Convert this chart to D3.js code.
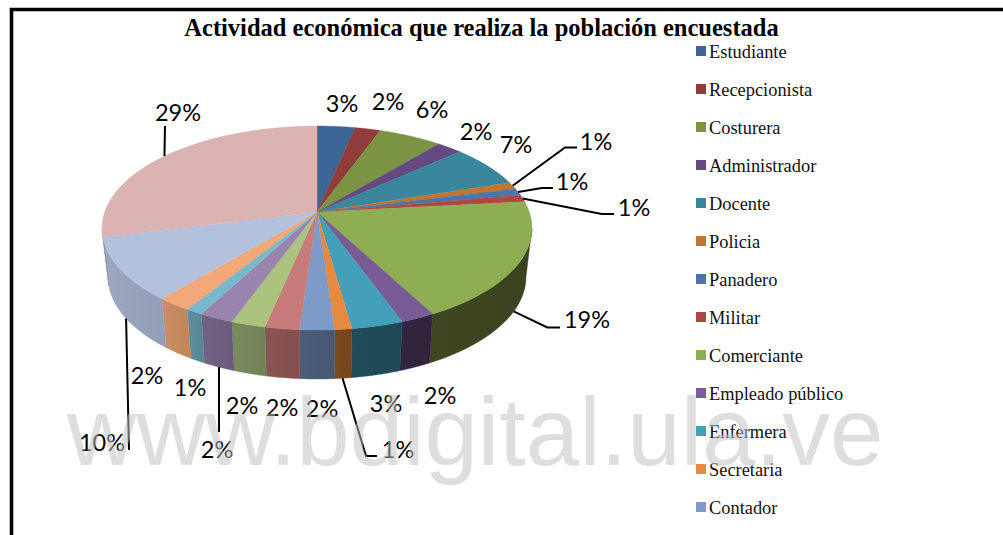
<!DOCTYPE html>
<html><head><meta charset="utf-8">
<script src="https://d3js.org/d3.v7.min.js"></script>
<style>html,body{margin:0;padding:0;background:#fff}svg{display:block}</style>
</head><body>
<svg id="c" width="1003" height="535"></svg>
<script>
const chartTitle = "Actividad económica que realiza la población encuestada";
const watermarkText = "www.bdigital.ula.ve";
// Only the first 13 names are visible: the legend is cut off by the picture.
const categories = ["Estudiante","Recepcionista","Costurera","Administrador","Docente","Policia","Panadero","Militar","Comerciante","Empleado público","Enfermera","Secretaria","Contador"];
const counts = [3,2,5,2,6,1,1,1,17,2,3,1,2,2,2,2,1,2,9,26];
const pctLabels = ["3%","2%","6%","2%","7%","1%","1%","1%","19%","2%","3%","1%","2%","2%","2%","2%","1%","2%","10%","29%"];
const topColors = ["#3c6695","#8f3c3a","#7a9444","#644a80","#38879c","#c3752f","#4a76ad","#b04642","#8fad52","#795c95","#44a0ba","#e58a3e","#7e9bc8","#c77b7a","#acc27f","#9a84ad","#78b8cc","#f2a878","#b3c1dc","#dbb3b3"];
const wallColors = ["#243d59","#562423","#4a5a28","#3c2d4d","#21525e","#77481f","#2d4768","#6a2a28","#3c4520","#31243f","#1f4a57","#77481f","#4a5a76","#865251","#75875a","#6f5f7f","#5b8b9b","#c68a60","#98a3ba","#a08585"];
// label placement: [centre x, centre y, optional leader elbow points]
const labelPlaces = [
 [342,103],[388,101],[432,109],[476,131],[516,144],
 [596,141,[[565,147.5],[577,147.5]]],[572,181,[[541.7,188],[553,188]]],[634,207,[[601.7,214],[614,214]]],
 [587,319,[[547.3,327.5],[560,327.5]]],[440,395],[386,403],[398,449,[[366,456],[377,456]]],
 [322,408],[282,407],[242,405],[217,449,[[219,432]]],[190,387],[147,375],[102,442,[[129,450]]],[178,112,[[165,126]]]
];

const W=1003,H=535;
const svg=d3.select("#c");
const defs=svg.append("defs");

// Tilted disc: a radial angle goes to a point on the rim of an off-centre ellipse
const K=0.157, A=99.5;
const CX=317;
const top0={b:212.3,y:212}, bot0={b:206.4,y:261};
const proj=(s,t,r=1)=>{const u=r*Math.sin(t),v=-r*Math.cos(t),w=1-K*v;return [CX+s.b*u/w,s.y+A*v/w];};

const arcs=d3.pie().sort(null).value(d=>d)(counts);
const T0=Math.acos(-K), T1=2*Math.PI-T0; // silhouette angles
const N=40;
const rim=(s,a,b)=>d3.range(N+1).map(i=>proj(s,a+(b-a)*i/N));
const line=d3.line();

// walls
const wallG=svg.append("g");
arcs.forEach((d,i)=>{
  const a=Math.max(d.startAngle,T0), b=Math.min(d.endAngle,T1);
  if(b<=a) return;
  const t=rim(top0,a,b), bo=rim(bot0,a,b);
  const id="w"+i, c=d3.color(wallColors[i]);
  const lg=defs.append("linearGradient").attr("id",id).attr("gradientUnits","userSpaceOnUse")
    .attr("x1",d3.min(t,p=>p[0])).attr("x2",d3.max(t,p=>p[0])).attr("y1",0).attr("y2",0);
  lg.append("stop").attr("offset",0).attr("stop-color",c.brighter(0.08));
  lg.append("stop").attr("offset",1).attr("stop-color",c.darker(0.08));
  wallG.append("path").attr("d",line(t.concat(bo.reverse()))+"Z").attr("fill",`url(#${id})`)
    .attr("stroke",`url(#${id})`).attr("stroke-width",0.4);
});
// top surface
const topG=svg.append("g");
arcs.forEach((d,i)=>{
  const pts=[[CX,top0.y]].concat(rim(top0,d.startAngle,d.endAngle));
  topG.append("path").attr("d",line(pts)+"Z").attr("fill",topColors[i]).attr("stroke",topColors[i]).attr("stroke-width",0.4);
});

// leader lines: back slices start on the upper rim, front ones on the lower rim
const leaderG=svg.append("g").attr("fill","none").attr("stroke","#000").attr("stroke-width",2);
arcs.forEach((d,i)=>{
  const lp=labelPlaces[i]; if(!lp[2]) return;
  const mid=(d.startAngle+d.endAngle)/2;
  const onWall=mid>T0 && mid<T1;
  const start=proj(onWall?bot0:top0,mid);
  leaderG.append("path").attr("d",line([start].concat(lp[2])));
});

// percent labels
svg.append("g").selectAll("text").data(pctLabels).join("text")
  .attr("x",(d,i)=>labelPlaces[i][0]).attr("y",(d,i)=>labelPlaces[i][1])
  .attr("text-anchor","middle").attr("dominant-baseline","central")
  .attr("font-family","Lato, 'Open Sans', sans-serif").attr("font-size",23.5).attr("fill","#000").text(d=>d);

// title
svg.append("text").attr("x",481.5).attr("y",36).attr("text-anchor","middle")
  .attr("font-family","'Liberation Serif',serif").attr("font-weight","bold").attr("font-size",24.5).text(chartTitle);

// legend
const legY=d3.scalePoint().domain(categories).range([51,507]);
const leg=svg.append("g").selectAll("g").data(categories).join("g").attr("transform",d=>`translate(0,${legY(d)})`);
leg.append("rect").attr("x",696).attr("y",-5).attr("width",10).attr("height",10).attr("fill",(d,i)=>topColors[i]);
leg.append("text").attr("x",709).attr("y",7).attr("font-family","'Liberation Serif',serif").attr("font-size",18.4).attr("fill","#111").text(d=>d);

// frame: only top and left sides are inside the picture
svg.append("path").attr("d",`M11.5 ${H}V9.5H${W}`).attr("fill","none").attr("stroke","#000").attr("stroke-width",3.6);

// watermark
svg.append("text").attr("x",67).attr("y",465).attr("font-family","'Liberation Sans',Arial,sans-serif").attr("font-size",96)
  .attr("fill","#c0c0c0").attr("opacity",0.52).text(watermarkText);
</script>
</body></html>
